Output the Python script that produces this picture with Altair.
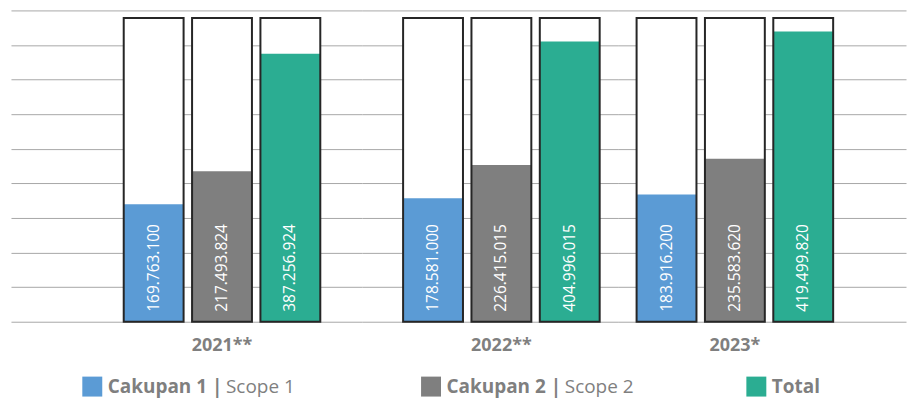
import altair as alt
import pandas as pd

# ---- data ----
years = ["2021**", "2022**", "2023*"]
series = ["Cakupan 1", "Cakupan 2", "Total"]
scope1 = [169763100, 178581000, 183916200]
scope2 = [217493824, 226415015, 235583620]
total = [387256924, 404996015, 419499820]
legend_bold = ["Cakupan 1 |", "Cakupan 2 |", "Total"]
legend_regular = ["Scope 1", "Scope 2", ""]
box_max = 439000000
axis_max = 450000000
axis_step = 50000000

colors = ["#5b9bd5", "#7f7f7f", "#2bad92"]
FONT = "Open Sans"
GRAY = "#7f7f7f"

# layout (panel widths, band paddings / alignments)
panel_w = [352, 256, 289]
panel_po = [0.3934, 0.1497, 0.2335]
panel_align = [0.729, 0.695, 0.2065]
legend_align = [0.2315, 0.2695, 0.481]
PANEL_H = 312


def fmt(v):
    return f"{v:,}".replace(",", ".")


def panel(i):
    vals = [scope1[i], scope2[i], total[i]]
    df = pd.DataFrame({
        "year": [years[i]] * 3,
        "series": series,
        "value": vals,
        "label": [fmt(v) for v in vals],
        "boxmax": [box_max] * 3,
    })
    yscale = alt.Scale(domain=[0, axis_max], nice=False, zero=True)
    yaxis = alt.Axis(title=None, labels=False, ticks=False, domain=False, grid=True,
                     values=list(range(0, axis_max + 1, axis_step)), tickCount=20,
                     gridColor="#a8a8a8", gridWidth=1, minExtent=0, maxExtent=0)
    base = alt.Chart(df).encode(
        x=alt.X("year:N",
                scale=alt.Scale(paddingInner=0, paddingOuter=panel_po[i], align=panel_align[i]),
                axis=alt.Axis(title=None, ticks=False, domain=False, labelAngle=0,
                              labelPadding=15, labelFont=FONT, labelFontWeight="bold",
                              labelFontSize=18, labelColor=GRAY, grid=False)),
        xOffset=alt.XOffset("series:N",
                            scale=alt.Scale(domain=series, paddingInner=0.124, paddingOuter=0)),
    )
    box = base.mark_bar(color="white").encode(
        y=alt.Y("boxmax:Q", scale=yscale, axis=yaxis))
    fill = base.mark_bar().encode(
        y=alt.Y("value:Q", scale=yscale, axis=yaxis),
        color=alt.Color("series:N", scale=alt.Scale(domain=series, range=colors), legend=None))
    outline = base.mark_bar(fillOpacity=0, stroke="#262626", strokeWidth=2).encode(
        y=alt.Y("boxmax:Q", scale=yscale, axis=yaxis))
    text = base.mark_text(angle=270, align="left", baseline="middle", dx=10,
                          color="white", font=FONT, fontSize=15.5).encode(
        y=alt.datum(0), text="label:N")
    return alt.layer(box, fill, outline, text).properties(width=panel_w[i], height=PANEL_H)


def legend_cell(i):
    df = pd.DataFrame({"item": [series[i]], "bold": [legend_bold[i]],
                       "regular": [legend_regular[i]]})
    base = alt.Chart(df).encode(
        x=alt.X("item:N", scale=alt.Scale(type="point", padding=0, align=legend_align[i]),
                axis=None))
    sq = base.mark_square(size=400, opacity=1).encode(
        color=alt.Color("item:N", scale=alt.Scale(domain=series, range=colors), legend=None))
    t1 = base.mark_text(align="left", baseline="middle", dx=15.5, font=FONT,
                        fontWeight="bold", fontSize=19, color=GRAY).encode(text="bold:N")
    t2 = base.mark_text(align="left", baseline="middle", dx=134, font=FONT,
                        fontSize=19, color=GRAY).encode(text="regular:N")
    return alt.layer(sq, t1, t2).properties(width=panel_w[i], height=20)


top = alt.hconcat(*[panel(i) for i in range(3)], spacing=0, bounds="flush")
bottom = alt.hconcat(*[legend_cell(i) for i in range(3)], spacing=0, bounds="flush")

chart = alt.vconcat(top, bottom, spacing=20).properties(
    padding={"left": 10, "top": 9, "right": 0, "bottom": 0},
    background="white",
).configure_view(stroke="transparent").configure_concat(spacing=0)

chart.save("out.html", embed_options={"renderer": "svg", "actions": False})
